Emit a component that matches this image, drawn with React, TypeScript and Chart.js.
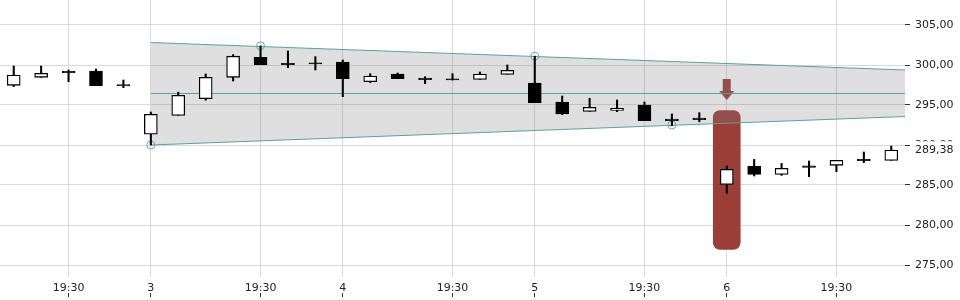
import React, { useEffect, useRef } from "react";
import { Chart, registerables } from "chart.js";

Chart.register(...registerables);

// ---- data ----
const opens = [297.46, 298.46, 299.2, 299.25, 297.55, 291.34, 293.7, 295.8, 298.46, 300.96, 300.2, 300.28, 300.375, 297.92, 298.875, 298.375, 298.28, 298.2, 298.83, 297.75, 295.375, 294.2, 294.33, 295.0, 293.25, 293.375, 285.08, 287.33, 286.33, 287.4, 287.46, 288.2, 288.08];
const highs = [299.875, 299.875, 299.375, 299.5, 298.125, 294.125, 296.6, 298.875, 301.3, 302.375, 301.75, 301.04, 300.625, 298.92, 299.0, 298.54, 298.92, 299.125, 300.0, 301.1, 296.125, 295.83, 295.625, 295.375, 293.875, 294.04, 287.375, 288.2, 287.7, 288.0, 288.08, 289.125, 289.875];
const lows = [297.3, 298.46, 297.92, 297.42, 297.17, 290.0, 293.7, 295.6, 298.0, 300.04, 299.67, 299.375, 296.04, 297.8, 298.29, 297.67, 298.12, 298.2, 298.83, 295.3, 293.8, 294.2, 294.17, 293.04, 292.4, 292.9, 283.96, 286.125, 286.2, 286.04, 286.67, 287.8, 288.08];
const closes = [298.75, 298.96, 299.05, 297.42, 297.4, 293.84, 296.2, 298.46, 301.1, 300.04, 300.05, 300.12, 298.3, 298.625, 298.29, 298.17, 298.12, 298.875, 299.33, 295.3, 293.9, 294.7, 294.58, 293.04, 293.04, 293.17, 286.96, 286.33, 287.08, 287.2, 288.08, 288.04, 289.38];

const xTickPositions = [2, 5, 9, 12, 16, 19, 23, 26, 30];
const xTickLabels = ["19:30", "3", "19:30", "4", "19:30", "5", "19:30", "6", "19:30"];
const yTickValues = [275, 280, 285, 290, 295, 300, 305];
const lastPrice = 289.38;

const channelX = [5, 32.5];
const channelUpper = [302.81, 299.375];
const channelMiddle = [296.44, 296.44];
const channelLower = [290.0, 293.56];

const pivotX = [5, 9, 19, 24];
const pivotY = [290.0, 302.4, 301.1, 292.5];

const gapIndex = 26;
const gapRange = [276.95, 294.3];
const arrowValue = 296.94;

const xMin = -0.5;
const xMax = 32.5;
const yMin = 273.5;
const yMax = 308.125;

const TEAL = "#5f9ea0";
const RED = "#9b3e38";
const GRID = "#d9d9d9";
const TEXT = "#222";

export default function App() {
  const ref = useRef<HTMLCanvasElement | null>(null);

  useEffect(() => {
    if (!ref.current) return;
    Chart.defaults.font.family = "'DejaVu Sans', sans-serif";
    Chart.defaults.font.size = 11;

    const arrow = document.createElement("canvas");
    arrow.width = 16;
    arrow.height = 21;
    const ac = arrow.getContext("2d")!;
    ac.fillStyle = RED;
    ac.fillRect(4, 0, 8, 13);
    ac.beginPath();
    ac.moveTo(0.5, 12);
    ac.lineTo(15.5, 12);
    ac.lineTo(8, 21);
    ac.closePath();
    ac.fill();

    const idx = opens.map((_, i) => i);
    const bodyColors = idx.map((i) => (closes[i] > opens[i] ? "#ffffff" : "#000000"));

    const lineData = (ys: number[]) => channelX.map((x, i) => ({ x, y: ys[i] }));

    const chart = new Chart(ref.current, {
      type: "bar",
      data: {
        datasets: [
          {
            type: "bar",
            data: [{ x: gapIndex, y: gapRange }] as any,
            backgroundColor: RED,
            barThickness: 27,
            borderRadius: 7,
            borderSkipped: false,
            grouped: false,
            order: 10,
          } as any,
          {
            type: "line",
            data: [{ x: gapIndex, y: arrowValue }],
            showLine: false,
            pointStyle: arrow,
            pointRadius: 10,
            order: 9,
          } as any,
          {
            type: "line",
            data: lineData(channelUpper),
            borderColor: TEAL,
            borderWidth: 1,
            pointRadius: 0,
            fill: "+1",
            backgroundColor: "rgba(128,128,128,0.25)",
            order: 8,
          } as any,
          {
            type: "line",
            data: lineData(channelLower),
            borderColor: TEAL,
            borderWidth: 1,
            pointRadius: 0,
            fill: false,
            order: 7,
          } as any,
          {
            type: "line",
            data: lineData(channelMiddle),
            borderColor: TEAL,
            borderWidth: 1,
            pointRadius: 0,
            fill: false,
            order: 6,
          } as any,
          {
            type: "line",
            data: pivotX.map((x, i) => ({ x, y: pivotY[i] })),
            showLine: false,
            pointStyle: "circle",
            pointRadius: 4,
            pointBorderWidth: 1,
            pointBorderColor: "#6aa8aa",
            pointBackgroundColor: "rgba(0,0,0,0)",
            order: 5,
          } as any,
          {
            type: "bar",
            data: idx.map((i) => ({ x: i, y: [lows[i], highs[i]] })) as any,
            backgroundColor: "#000",
            barThickness: 1.4,
            grouped: false,
            order: 2,
          } as any,
          {
            type: "bar",
            data: idx.map((i) => ({ x: i, y: [opens[i], closes[i]] })) as any,
            backgroundColor: bodyColors,
            borderColor: "#000",
            borderWidth: 1.3,
            borderSkipped: false,
            barThickness: 13,
            grouped: false,
            order: 1,
          } as any,
        ],
      },
      options: {
        responsive: false,
        animation: false,
        devicePixelRatio: 1,
        events: [],
        layout: { padding: 0, autoPadding: false },
        plugins: {
          legend: { display: false },
          tooltip: { enabled: false },
        },
        scales: {
          x: {
            type: "linear",
            position: "bottom",
            min: xMin,
            max: xMax,
            offset: false,
            border: { display: false },
            grid: {
              color: GRID,
              lineWidth: 1,
              offset: false,
              drawTicks: true,
              tickLength: 20,
              tickColor: "#333",
              tickWidth: 1,
              tickBorderDash: [0, 16, 4, 40],
            },
            afterBuildTicks: (s: any) => {
              s.ticks = xTickPositions.map((v) => ({ value: v }));
            },
            afterFit: (s: any) => {
              s.height = 23;
              s.paddingLeft = 0;
              s.paddingRight = 0;
            },
            ticks: {
              autoSkip: false,
              maxRotation: 0,
              padding: -15,
              color: TEXT,
              font: { size: 11 },
              callback: (_v: any, i: number) => xTickLabels[i],
            },
          },
          y: {
            type: "linear",
            position: "right",
            min: yMin,
            max: yMax,
            border: { display: false },
            grid: {
              color: (ctx: any) => (ctx.tick && ctx.tick.value === lastPrice ? "rgba(0,0,0,0)" : GRID),
              tickColor: (ctx: any) => (ctx.tick && ctx.tick.value === lastPrice ? "rgba(0,0,0,0)" : "#333"),
              drawTicks: true,
              tickLength: 5,
            },
            afterBuildTicks: (s: any) => {
              s.ticks = [...yTickValues, lastPrice].map((v) => ({ value: v }));
            },
            afterFit: (s: any) => {
              s.width = 55;
              s.paddingTop = 0;
              s.paddingBottom = 0;
            },
            ticks: {
              autoSkip: false,
              padding: 5,
              color: TEXT,
              font: { size: 11 },
              showLabelBackdrop: (ctx: any) => !!(ctx.tick && ctx.tick.value === lastPrice),
              backdropColor: "#ffffff",
              backdropPadding: 2,
              callback: (v: any) => Number(v).toFixed(2).replace(".", ","),
            } as any,
          },
        },
      } as any,
    });

    return () => {
      chart.destroy();
    };
  }, []);

  return (
    <div style={{ position: "absolute", left: 0, top: 0, width: 960, height: 300, background: "#fff" }}>
      <canvas ref={ref} width={960} height={300} style={{ display: "block", width: 960, height: 300 }} />
    </div>
  );
}
